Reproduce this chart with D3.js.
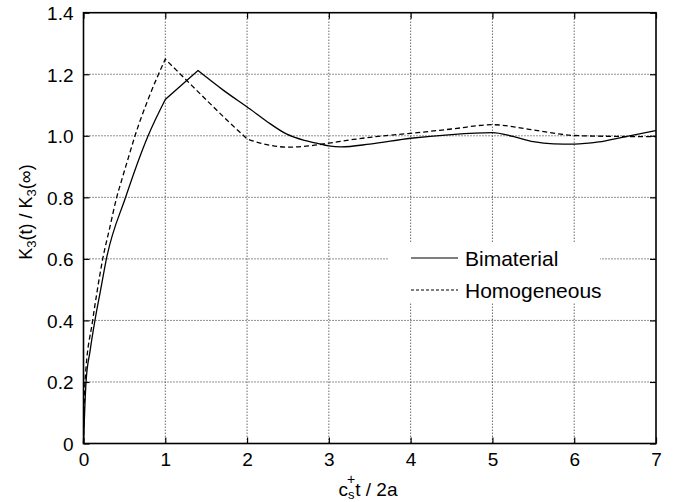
<!DOCTYPE html>
<html>
<head>
<meta charset="utf-8">
<script src="https://cdn.jsdelivr.net/npm/d3@7"></script>
<style>
  body { margin: 0; background: #fff; }
  svg { display: block; }
  text { font-family: "Liberation Sans", Arial, Helvetica, sans-serif; fill: #000; }
</style>
</head>
<body>
<svg id="chart" width="674" height="502"></svg>
<script>
// ---- data ----
const bimaterialX = [0, 0.031, 0.08, 0.14, 0.21, 0.28, 0.515, 0.79, 1.0, 1.2, 1.4, 1.7, 2.04, 2.25, 2.48, 2.7, 2.85, 3.0, 3.15, 3.5, 4.0, 4.5, 5.0, 5.25, 5.5, 5.75, 6.0, 6.3, 6.6, 7.0];
const bimaterialY = [0, 0.20, 0.30, 0.40, 0.50, 0.60, 0.80, 1.00, 1.118, 1.165, 1.212, 1.15, 1.086, 1.045, 1.006, 0.985, 0.976, 0.967, 0.964, 0.973, 0.992, 1.004, 1.010, 0.998, 0.981, 0.974, 0.973, 0.980, 0.996, 1.017];
const bimaterialKinks = [1.0, 1.4];

const homogeneousX = [0, 0.018, 0.112, 0.17, 0.235, 0.32, 0.406, 0.467, 0.55, 0.63, 0.8, 1.0, 1.25, 1.5, 1.75, 2.0, 2.16, 2.3, 2.5, 2.75, 3.0, 3.3, 3.67, 4.0, 4.5, 5.0, 5.5, 6.0, 6.5, 7.0];
const homogeneousY = [0, 0.20, 0.40, 0.50, 0.60, 0.70, 0.80, 0.856, 0.93, 1.00, 1.125, 1.249, 1.183, 1.117, 1.052, 0.990, 0.976, 0.968, 0.963, 0.967, 0.976, 0.988, 1.000, 1.008, 1.022, 1.036, 1.019, 1.001, 0.998, 0.997];
const homogeneousKinks = [1.0, 2.0];

const xTicks = [0, 1, 2, 3, 4, 5, 6, 7];
const yTicks = [0, 0.2, 0.4, 0.6, 0.8, 1.0, 1.2, 1.4];
const yTickLabels = ["0", "0.2", "0.4", "0.6", "0.8", "1.0", "1.2", "1.4"];
const seriesNames = ["Bimaterial", "Homogeneous"];

// ---- layout ----
const svg = d3.select("#chart");
const L = 83.5, R = 656, T = 12.7, B = 443.5;
const x = d3.scaleLinear().domain([0, 7]).range([L, R]);
const y = d3.scaleLinear().domain([0, 1.4]).range([B, T]);

// grid
const grid = svg.append("g").attr("stroke", "#222").attr("stroke-width", 1).attr("stroke-dasharray", "1,2");
grid.selectAll("line.v").data(xTicks.slice(1, -1)).join("line")
  .attr("x1", d => x(d)).attr("x2", d => x(d)).attr("y1", T).attr("y2", B);
grid.selectAll("line.h").data(yTicks.slice(1, -1)).join("line")
  .attr("y1", d => y(d)).attr("y2", d => y(d)).attr("x1", L).attr("x2", R);

// axes (ticks inward)
const fs = 19;
const axB = svg.append("g").attr("transform", `translate(0,${B})`)
  .call(d3.axisBottom(x).tickValues(xTicks).tickSize(-6).tickPadding(9).tickFormat(d3.format("d")));
const axT = svg.append("g").attr("transform", `translate(0,${T})`)
  .call(d3.axisTop(x).tickValues(xTicks).tickSize(-6).tickFormat(""));
const axL = svg.append("g").attr("transform", `translate(${L},0)`)
  .call(d3.axisLeft(y).tickValues(yTicks).tickSize(-6).tickPadding(10).tickFormat((d, i) => yTickLabels[i]));
const axR = svg.append("g").attr("transform", `translate(${R},0)`)
  .call(d3.axisRight(y).tickValues(yTicks).tickSize(-6).tickFormat(""));
[axB, axT, axL, axR].forEach(a => {
  a.select(".domain").remove();
  a.selectAll(".tick line").attr("stroke", "#000").attr("stroke-width", 1.2);
  a.selectAll("text").attr("font-size", fs).attr("font-family", "'Liberation Sans', Arial, sans-serif").attr("fill", "#000");
});
axB.selectAll("text").attr("dy", "0.71em");
axL.selectAll("text").attr("dy", "0.36em");

// frame
svg.append("rect").attr("x", L).attr("y", T).attr("width", R - L).attr("height", B - T)
  .attr("fill", "none").attr("stroke", "#000").attr("stroke-width", 1.6);

// lines: smooth pieces joined at kink points
const line = d3.line().x(d => x(d[0])).y(d => y(d[1])).curve(d3.curveMonotoneX);
function piecewisePath(xs, ys, kinks) {
  const pts = xs.map((v, i) => [v, ys[i]]);
  const bounds = [xs[0], ...kinks, xs[xs.length - 1]];
  let d = "";
  for (let k = 0; k < bounds.length - 1; k++) {
    const seg = pts.filter(p => p[0] >= bounds[k] && p[0] <= bounds[k + 1]);
    const s = line(seg);
    d += k === 0 ? s : "L" + s.slice(1);
  }
  return d;
}
svg.append("path").attr("d", piecewisePath(homogeneousX, homogeneousY, homogeneousKinks))
  .attr("fill", "none").attr("stroke", "#000").attr("stroke-width", 1.3).attr("stroke-dasharray", "5,3");
svg.append("path").attr("d", piecewisePath(bimaterialX, bimaterialY, bimaterialKinks))
  .attr("fill", "none").attr("stroke", "#000").attr("stroke-width", 1.3);

// legend
const lg = svg.append("g");
lg.append("rect").attr("x", 388).attr("y", 243).attr("width", 212).attr("height", 59).attr("fill", "#fff");
const legRows = [{ name: seriesNames[0], dash: null, cy: 258 }, { name: seriesNames[1], dash: "3,2", cy: 290 }];
legRows.forEach(r => {
  lg.append("line").attr("x1", 411).attr("x2", 458).attr("y1", r.cy).attr("y2", r.cy)
    .attr("stroke", "#000").attr("stroke-width", 1.2).attr("stroke-dasharray", r.dash);
  lg.append("text").attr("x", 465).attr("y", r.cy + 7.5).attr("font-size", 21).text(r.name);
});

// x-axis title: c_s^+ t / 2a
const xt = svg.append("g");
const tc = xt.append("text").attr("y", 496).attr("font-size", fs).text("c");
const cW = tc.node().getComputedTextLength();
const ts = xt.append("text").attr("y", 499).attr("font-size", 13).text("s");
const tp = xt.append("text").attr("y", 484).attr("font-size", 14).text("+");
const sW = Math.max(ts.node().getComputedTextLength(), tp.node().getComputedTextLength()) - 1;
const tr = xt.append("text").attr("y", 496).attr("font-size", fs).text("t / 2a");
const rW = tr.node().getComputedTextLength();
const total = cW + sW + rW;
const x0 = 368 - total / 2;
tc.attr("x", x0);
ts.attr("x", x0 + cW);
tp.attr("x", x0 + cW - 1);
tr.attr("x", x0 + cW + sW);

// y-axis title: K3(t) / K3(∞)
const yt = svg.append("text").attr("transform", "translate(32,212) rotate(-90)")
  .attr("text-anchor", "middle").attr("font-size", 18);
yt.append("tspan").text("K");
yt.append("tspan").attr("font-size", 13).attr("dy", 4).text("3");
yt.append("tspan").attr("dy", -4).text("(t) / K");
yt.append("tspan").attr("font-size", 13).attr("dy", 4).text("3");
yt.append("tspan").attr("dy", -4).text("(∞)");
</script>
</body>
</html>
